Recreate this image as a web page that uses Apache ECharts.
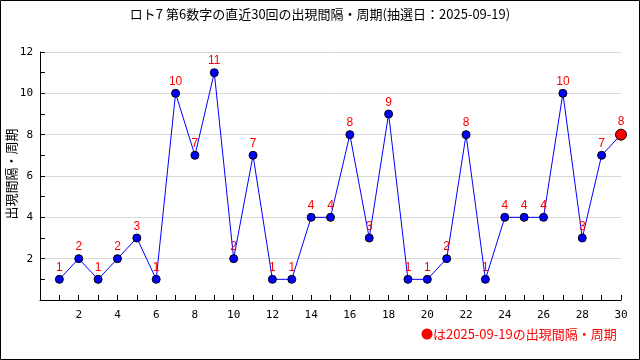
<!DOCTYPE html>
<html><head><meta charset="utf-8">
<script src="https://cdn.jsdelivr.net/npm/echarts@6/dist/echarts.min.js"></script>
<style>html,body{margin:0;padding:0;background:#fff}#c{width:640px;height:360px}</style>
</head><body><div id="c"></div>
<script>
const titleText = 'ロト7 第6数字の直近30回の出現間隔・周期(抽選日：2025-09-19)';
const yAxisName = '出現間隔・周期';
const noteText = 'は2025-09-19の出現間隔・周期';
const draws = [1,2,3,4,5,6,7,8,9,10,11,12,13,14,15,16,17,18,19,20,21,22,23,24,25,26,27,28,29,30];
const intervals = [1,2,1,2,3,1,10,7,11,2,7,1,1,4,4,8,3,9,1,1,2,8,1,4,4,4,10,3,7,8];

const mono = '"DejaVu Sans Mono", "Noto Sans CJK JP", monospace';
const sans = '"Liberation Sans", Arial, sans-serif';
const jp = '"Noto Sans CJK JP", sans-serif';
const pts = draws.map((d,i)=>{
  const last = i === draws.length-1;
  return {
    value:[d, intervals[i]],
    symbolSize: last ? 11 : 8,
    itemStyle: last ? {color:'#ff0000', borderColor:'#000', borderWidth:1} : {color:'#0000ff', borderColor:'#000', borderWidth:1}
  };
});
const chart = echarts.init(document.getElementById('c'), null, {renderer:'canvas'});
chart.setOption({
  animation:false,
  backgroundColor:'#fff',
  title:{text:titleText, left:'center', top:3, textStyle:{fontSize:13, fontWeight:'normal', color:'#000', fontFamily:jp}},
  grid:{left:40, right:19, top:52, bottom:60, containLabel:false, outerBoundsMode:'none'},
  xAxis:{type:'value', min:0, max:30, interval:2,
    axisLine:{onZero:false, lineStyle:{color:'#000'}},
    axisTick:{show:true, inside:true, length:5, lineStyle:{color:'#000'}},
    minorTick:{show:true, splitNumber:2, length:5, lineStyle:{color:'#000'}},
    axisLabel:{color:'#000', fontSize:11, fontFamily:mono, margin:10, formatter:v=> v===0?'':String(v)},
    splitLine:{show:false}},
  yAxis:{type:'value', min:0, max:12, interval:2,
    axisLine:{show:true, lineStyle:{color:'#000'}},
    axisTick:{show:true, inside:true, length:5, lineStyle:{color:'#000'}},
    minorTick:{show:true, splitNumber:2, length:5, lineStyle:{color:'#000'}},
    axisLabel:{color:'#000', fontSize:11, fontFamily:mono, margin:7, formatter:v=> v===0?'':String(v)},
    splitLine:{show:true, lineStyle:{color:'#d9d9d9', width:1}}},
  series:[{type:'line', data:pts, symbol:'circle',
    lineStyle:{color:'#0000ff', width:1}, 
    label:{show:true, position:'top', distance:1, color:'#ff0000', fontSize:12, fontFamily:sans, formatter:p=>p.value[1]}}],
  graphic:[
    {type:'rect', shape:{x:0.5,y:0.5,width:639,height:359}, style:{fill:'none', stroke:'#000', lineWidth:1}, silent:true},
    {type:'text', x:11, y:174, rotation:Math.PI/2, style:{text:yAxisName, fill:'#000', fontSize:13, fontFamily:jp, align:'center', verticalAlign:'middle'}},
    {type:'circle', shape:{cx:427, cy:334, r:5.5}, style:{fill:'#ff0000'}},
    {type:'text', x:433, y:334, style:{text:noteText, fill:'#ff0000', fontSize:13, fontFamily:jp, verticalAlign:'middle', align:'left'}}
  ]
});
</script></body></html>
